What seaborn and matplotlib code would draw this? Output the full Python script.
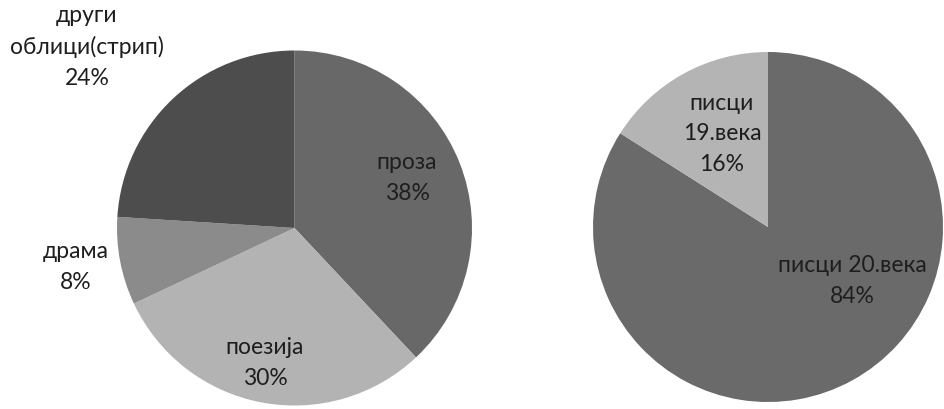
import matplotlib
matplotlib.use("Agg")
import matplotlib.pyplot as plt
import seaborn as sns

# Data
left_labels = ["проза", "поезија", "драма", "други\nоблици(стрип)"]
left_values = [38, 30, 8, 24]
right_labels = ["писци 20.века", "писци\n19.века"]
right_values = [84, 16]

left_colors = ["#686868", "#b3b3b3", "#8b8b8b", "#4d4d4d"]
right_colors = ["#6a6a6a", "#b4b4b4"]

sns.set_theme(style="white")
plt.rcParams['font.family'] = ['Lato', 'DejaVu Sans']

W, H = 944, 409
fig = plt.figure(figsize=(W / 100, H / 100), dpi=100)
ax = fig.add_axes([0, 0, 1, 1])

ax.pie(left_values, colors=left_colors, startangle=90, counterclock=False,
       center=(294.5, H - 228), radius=177.5, frame=True,
       wedgeprops=dict(linewidth=0))
ax.pie(right_values, colors=right_colors, startangle=90, counterclock=False,
       center=(768, H - 227), radius=175, frame=True,
       wedgeprops=dict(linewidth=0))
ax.set_xlim(0, W)
ax.set_ylim(0, H)
ax.set_aspect("equal")
ax.axis("off")

# Label positions (pixel layout)
left_pos = [(407, 178), (265, 363), (76, 267), (87, 47)]
right_pos = [(852, 281), (722, 134)]

kw = dict(ha="center", va="center", fontsize=16.5, color="#1e1e1e", linespacing=1.55)
for lab, v, (x, y) in zip(left_labels, left_values, left_pos):
    ax.text(x, H - y, f"{lab}\n{v}%", **kw)
for lab, v, (x, y) in zip(right_labels, right_values, right_pos):
    ax.text(x, H - y, f"{lab}\n{v}%", **kw)

fig.savefig("out.png", dpi=100)
